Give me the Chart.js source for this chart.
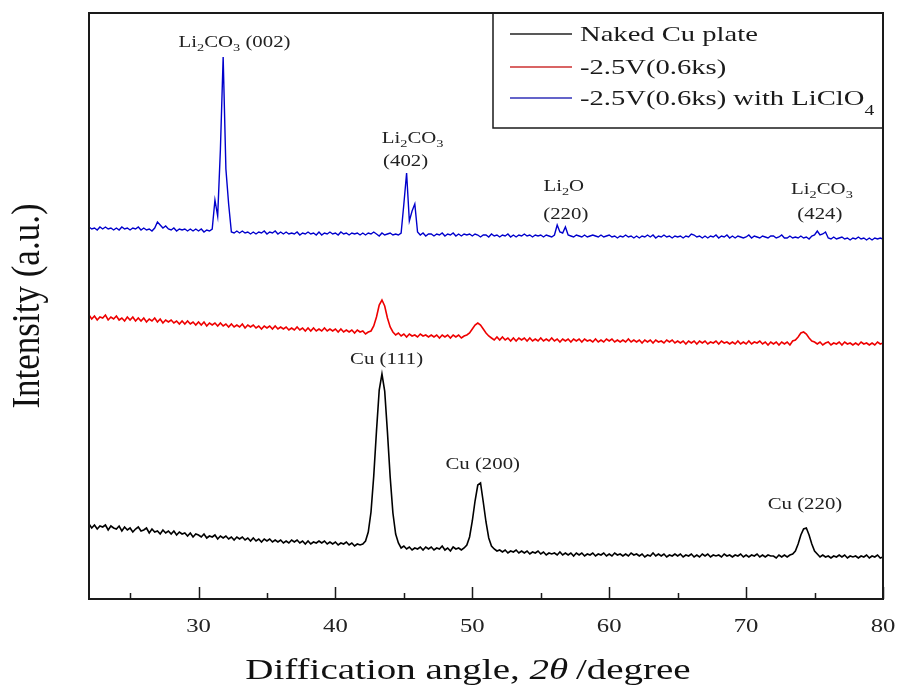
<!DOCTYPE html>
<html>
<head>
<meta charset="utf-8">
<title>XRD patterns</title>
<script src="https://cdn.jsdelivr.net/npm/chart.js@4.4.1/dist/chart.umd.min.js"></script>
<style>
  body { margin: 0; background: #fff; }
  canvas { display: block; }
</style>
</head>
<body>
<canvas id="myChart" width="897" height="693"></canvas>
<script>
// scan positions, 2theta in degree (one row per degree)
var angles = [
  22, 22.2, 22.4, 22.6, 22.8, 23, 23.2, 23.4, 23.6, 23.8,
  24, 24.2, 24.4, 24.6, 24.8, 25, 25.2, 25.4, 25.6, 25.8,
  26, 26.2, 26.4, 26.6, 26.8, 27, 27.2, 27.4, 27.6, 27.8,
  28, 28.2, 28.4, 28.6, 28.8, 29, 29.2, 29.4, 29.6, 29.8,
  30, 30.2, 30.4, 30.6, 30.8, 31, 31.2, 31.4, 31.6, 31.8,
  32, 32.2, 32.4, 32.6, 32.8, 33, 33.2, 33.4, 33.6, 33.8,
  34, 34.2, 34.4, 34.6, 34.8, 35, 35.2, 35.4, 35.6, 35.8,
  36, 36.2, 36.4, 36.6, 36.8, 37, 37.2, 37.4, 37.6, 37.8,
  38, 38.2, 38.4, 38.6, 38.8, 39, 39.2, 39.4, 39.6, 39.8,
  40, 40.2, 40.4, 40.6, 40.8, 41, 41.2, 41.4, 41.6, 41.8,
  42, 42.2, 42.4, 42.6, 42.8, 43, 43.2, 43.4, 43.6, 43.8,
  44, 44.2, 44.4, 44.6, 44.8, 45, 45.2, 45.4, 45.6, 45.8,
  46, 46.2, 46.4, 46.6, 46.8, 47, 47.2, 47.4, 47.6, 47.8,
  48, 48.2, 48.4, 48.6, 48.8, 49, 49.2, 49.4, 49.6, 49.8,
  50, 50.2, 50.4, 50.6, 50.8, 51, 51.2, 51.4, 51.6, 51.8,
  52, 52.2, 52.4, 52.6, 52.8, 53, 53.2, 53.4, 53.6, 53.8,
  54, 54.2, 54.4, 54.6, 54.8, 55, 55.2, 55.4, 55.6, 55.8,
  56, 56.2, 56.4, 56.6, 56.8, 57, 57.2, 57.4, 57.6, 57.8,
  58, 58.2, 58.4, 58.6, 58.8, 59, 59.2, 59.4, 59.6, 59.8,
  60, 60.2, 60.4, 60.6, 60.8, 61, 61.2, 61.4, 61.6, 61.8,
  62, 62.2, 62.4, 62.6, 62.8, 63, 63.2, 63.4, 63.6, 63.8,
  64, 64.2, 64.4, 64.6, 64.8, 65, 65.2, 65.4, 65.6, 65.8,
  66, 66.2, 66.4, 66.6, 66.8, 67, 67.2, 67.4, 67.6, 67.8,
  68, 68.2, 68.4, 68.6, 68.8, 69, 69.2, 69.4, 69.6, 69.8,
  70, 70.2, 70.4, 70.6, 70.8, 71, 71.2, 71.4, 71.6, 71.8,
  72, 72.2, 72.4, 72.6, 72.8, 73, 73.2, 73.4, 73.6, 73.8,
  74, 74.2, 74.4, 74.6, 74.8, 75, 75.2, 75.4, 75.6, 75.8,
  76, 76.2, 76.4, 76.6, 76.8, 77, 77.2, 77.4, 77.6, 77.8,
  78, 78.2, 78.4, 78.6, 78.8, 79, 79.2, 79.4, 79.6, 79.8,
  80
];

// intensities (a.u., traces already offset as in the figure)
var nakedCu = [
  75, 71, 74, 70, 73, 72, 74, 69, 73, 71,
  70, 73, 68, 72, 69, 71, 67, 70, 72, 68,
  69, 71, 66, 70, 67, 68, 65, 69, 66, 68,
  65, 68, 64, 67, 65, 66, 63, 66, 62, 65,
  64, 62, 65, 61, 63, 62, 64, 60, 63, 61,
  63, 60, 62, 59, 62, 60, 62, 59, 61, 58,
  61, 58, 60, 57, 60, 58, 60, 57, 59, 57,
  59, 56, 58, 56, 59, 57, 59, 56, 58, 55,
  58, 55, 57, 56, 58, 56, 58, 55, 57, 55,
  57, 54, 56, 55, 57, 54, 56, 53, 55, 54,
  55, 58, 67, 87, 123, 168, 209, 225, 208, 167,
  122, 86, 65, 56, 51, 53, 50, 52, 49, 51,
  50, 52, 49, 52, 50, 52, 49, 51, 50, 53,
  49, 51, 48, 52, 50, 51, 49, 51, 54, 62,
  78, 98, 114, 116, 97, 77, 61, 53, 50, 48,
  49, 47, 49, 46, 48, 47, 49, 46, 48, 46,
  48, 45, 47, 46, 48, 45, 47, 44, 46, 45,
  46, 44, 47, 44, 46, 44, 46, 43, 46, 44,
  46, 43, 45, 44, 46, 43, 45, 44, 46, 43,
  45, 43, 46, 44, 45, 43, 45, 43, 46, 44,
  45, 43, 45, 42, 44, 43, 46, 43, 45, 43,
  45, 42, 44, 43, 45, 43, 45, 42, 44, 43,
  45, 42, 44, 42, 45, 43, 45, 42, 44, 43,
  44, 42, 45, 43, 44, 42, 44, 43, 45, 42,
  44, 42, 44, 43, 45, 42, 44, 42, 44, 43,
  43, 41, 44, 42, 44, 42, 44, 45, 48, 55,
  64, 70, 71, 64, 55, 48, 45, 42, 44, 42,
  43, 41, 43, 42, 44, 42, 44, 41, 43, 42,
  43, 41, 43, 42, 44, 41, 43, 42, 44, 41,
  42
];

var cathodic = [
  284, 280, 283, 279, 282, 281, 284, 279, 282, 280,
  283, 279, 281, 278, 282, 279, 282, 278, 281, 278,
  281, 277, 280, 278, 281, 277, 280, 276, 279, 277,
  279, 276, 278, 275, 278, 275, 278, 275, 277, 274,
  277, 274, 277, 273, 276, 274, 276, 273, 276, 273,
  275, 272, 275, 272, 274, 272, 275, 271, 274, 272,
  274, 271, 273, 270, 273, 271, 273, 270, 273, 270,
  272, 270, 272, 269, 271, 269, 272, 269, 271, 268,
  271, 268, 271, 268, 270, 268, 271, 268, 270, 268,
  270, 267, 270, 267, 269, 267, 269, 266, 269, 267,
  268, 265, 267, 268, 273, 282, 294, 299, 293, 281,
  272, 267, 264, 266, 263, 265, 262, 265, 263, 264,
  262, 265, 263, 264, 262, 264, 262, 264, 261, 264,
  262, 264, 261, 264, 262, 264, 261, 263, 264, 266,
  270, 274, 276, 274, 270, 266, 263, 261, 259, 262,
  259, 262, 259, 261, 258, 261, 258, 261, 259, 261,
  258, 261, 258, 260, 258, 261, 258, 260, 258, 261,
  258, 260, 257, 260, 258, 260, 257, 260, 258, 260,
  257, 260, 258, 259, 257, 260, 257, 259, 257, 260,
  258, 260, 257, 259, 257, 259, 257, 260, 257, 259,
  257, 259, 256, 259, 257, 259, 256, 259, 257, 258,
  256, 259, 257, 259, 256, 258, 256, 258, 255, 258,
  256, 258, 255, 258, 256, 258, 255, 257, 256, 258,
  255, 258, 256, 257, 255, 257, 255, 258, 255, 257,
  255, 258, 255, 257, 256, 258, 255, 257, 254, 257,
  255, 257, 254, 257, 255, 257, 254, 258, 259, 262,
  266, 267, 265, 261, 258, 257, 255, 257, 254, 256,
  257, 254, 256, 255, 257, 254, 257, 255, 256, 254,
  256, 254, 257, 255, 256, 254, 256, 254, 257, 255,
  256
];

var cathodicLiClO4 = [
  372, 370, 371, 369, 372, 370, 372, 370, 371, 369,
  371, 369, 372, 370, 371, 369, 371, 370, 372, 369,
  371, 369, 370, 368, 371, 377, 374, 371, 373, 370,
  369, 371, 368, 370, 369, 370, 368, 370, 368, 370,
  368, 370, 367, 369, 368, 370, 399, 383, 450, 542,
  430, 395, 367, 366, 368, 366, 368, 366, 367, 365,
  367, 365, 367, 366, 368, 365, 367, 366, 368, 365,
  367, 365, 367, 365, 366, 365, 367, 364, 366, 365,
  367, 365, 366, 364, 367, 364, 366, 365, 367, 365,
  366, 364, 367, 365, 366, 364, 366, 365, 366, 364,
  366, 364, 366, 365, 367, 365, 363, 366, 364, 365,
  366, 364, 365, 364, 366, 395, 426, 378, 388, 395,
  367, 364, 366, 363, 365, 365, 363, 365, 364, 366,
  363, 365, 364, 366, 363, 365, 363, 365, 364, 365,
  363, 365, 364, 362, 364, 364, 362, 365, 363, 364,
  362, 364, 363, 365, 362, 364, 362, 364, 363, 365,
  363, 364, 362, 364, 363, 364, 362, 364, 363, 362,
  364, 374, 367, 366, 372, 364, 363, 362, 364, 363,
  362, 364, 362, 363, 364, 363, 362, 364, 362, 363,
  364, 362, 363, 361, 363, 362, 364, 362, 363, 361,
  363, 361, 363, 362, 364, 362, 364, 361, 363, 362,
  364, 362, 363, 361, 363, 362, 363, 361, 363, 362,
  365, 364, 362, 363, 361, 363, 361, 363, 362, 364,
  361, 363, 362, 364, 361, 363, 361, 363, 362, 361,
  362, 364, 361, 363, 362, 361, 363, 362, 361, 363,
  363, 361, 362, 364, 361, 361, 363, 361, 362, 361,
  363, 361, 362, 360, 363, 364, 368, 364, 365, 367,
  361, 360, 362, 360, 361, 362, 360, 361, 359, 361,
  360, 362, 360, 361, 359, 361, 359, 361, 360, 361,
  360
];

var seriesNames = ['Naked Cu plate', '-2.5V(0.6ks)', '-2.5V(0.6ks) with LiClO'];
var seriesColors = ['#000000', '#ee0000', '#0000cc'];
var legendLineColors = ['#222222', '#cc3030', '#3030b8'];
var xTicks = [30, 40, 50, 60, 70, 80];
var xMinorTicks = [25, 35, 45, 55, 65, 75];

// peak labels: [angle, intensity] of each text line, parts = [text, subscript]
var peakLabels = [
  { x: 32.63, y: 556, parts: [['Li'], ['2', 1], ['CO'], ['3', 1], [' (002)']] },
  { x: 45.64, y: 460, parts: [['Li'], ['2', 1], ['CO'], ['3', 1]] },
  { x: 45.13, y: 437, parts: [['(402)']] },
  { x: 56.68, y: 412, parts: [['Li'], ['2', 1], ['O']] },
  { x: 56.83, y: 384, parts: [['(220)']] },
  { x: 75.54, y: 409, parts: [['Li'], ['2', 1], ['CO'], ['3', 1]] },
  { x: 75.39, y: 384, parts: [['(424)']] },
  { x: 43.74, y: 239, parts: [['Cu (111)']] },
  { x: 50.76, y: 134, parts: [['Cu (200)']] },
  { x: 74.30, y: 94, parts: [['Cu (220)']] }
];

var STRETCH = 1.3; // the figure's text is horizontally stretched
var FONT = '"Liberation Serif", "Times New Roman", serif';

function drawRich(ctx, parts, x, y, size, align, subDrop) {
  ctx.save();
  ctx.translate(x, y);
  ctx.scale(STRETCH, 1);
  var subSize = Math.round(size * 0.68);
  var w = 0;
  parts.forEach(function (p) {
    ctx.font = (p[2] || '') + ' ' + (p[1] ? subSize : size) + 'px ' + FONT;
    w += ctx.measureText(p[0]).width;
  });
  var cx = align === 'left' ? 0 : -w / 2;
  ctx.textAlign = 'left';
  ctx.textBaseline = 'middle';
  parts.forEach(function (p) {
    ctx.font = (p[2] || '') + ' ' + (p[1] ? subSize : size) + 'px ' + FONT;
    ctx.fillText(p[0], cx, p[1] ? size * subDrop : 0);
    cx += ctx.measureText(p[0]).width;
  });
  ctx.restore();
}

var decorations = {
  id: 'decorations',
  afterDraw: function (chart) {
    var ctx = chart.ctx;
    var a = chart.chartArea;
    var xs = chart.scales.x;
    var ys = chart.scales.y;
    ctx.save();

    // legend box in the top right corner
    ctx.fillStyle = '#fff';
    ctx.fillRect(493, a.top, a.right - 493, 115);
    ctx.strokeStyle = '#1a1a1a';
    ctx.lineWidth = 1.5;
    ctx.strokeRect(493, a.top, a.right - 493, 115);
    var rows = [35, 68, 99];
    for (var i = 0; i < seriesNames.length; i++) {
      ctx.strokeStyle = legendLineColors[i];
      ctx.lineWidth = 1.4;
      ctx.beginPath();
      ctx.moveTo(510, rows[i] - 1);
      ctx.lineTo(572, rows[i] - 1);
      ctx.stroke();
      ctx.fillStyle = '#1a1a1a';
      var parts = [[seriesNames[i]]];
      if (i === 2) parts.push(['4', 1]);
      drawRich(ctx, parts, 580, rows[i], 22, 'left', 0.55);
    }

    // plot frame
    ctx.strokeStyle = '#1a1a1a';
    ctx.lineWidth = 2;
    ctx.strokeRect(a.left, a.top, a.right - a.left, a.bottom - a.top);

    // inward ticks on the bottom axis
    ctx.lineWidth = 1.5;
    ctx.beginPath();
    xTicks.forEach(function (v) {
      var px = Math.round(xs.getPixelForValue(v)) + 0.5;
      ctx.moveTo(px, a.bottom);
      ctx.lineTo(px, a.bottom - 12);
    });
    xMinorTicks.forEach(function (v) {
      var px = Math.round(xs.getPixelForValue(v)) + 0.5;
      ctx.moveTo(px, a.bottom);
      ctx.lineTo(px, a.bottom - 6);
    });
    ctx.stroke();

    // tick labels
    ctx.fillStyle = '#222';
    xTicks.forEach(function (v) {
      drawRich(ctx, [[String(v)]], xs.getPixelForValue(v), 627, 19, 'center', 0);
    });

    // axis titles
    ctx.fillStyle = '#111';
    drawRich(ctx, [['Diffication angle, '], ['2\u03b8\u2009', 0, 'italic'], ['/degree']], 468, 671, 30, 'center', 0);
    ctx.save();
    ctx.translate(29, 306);
    ctx.scale(1.12, 1);
    ctx.rotate(-Math.PI / 2);
    ctx.font = '35px ' + FONT;
    ctx.textAlign = 'center';
    ctx.textBaseline = 'middle';
    ctx.fillText('Intensity (a.u.)', 0, 0);
    ctx.restore();

    // peak assignments
    ctx.fillStyle = '#222';
    peakLabels.forEach(function (l) {
      drawRich(ctx, l.parts, xs.getPixelForValue(l.x), ys.getPixelForValue(l.y), 16, 'center', 0.3);
    });
    ctx.restore();
  }
};

function displayGraph() {
  var grapharea = document.getElementById('myChart');
  var data = {
    labels: angles,
    datasets: [
      { label: seriesNames[0], data: nakedCu, borderColor: seriesColors[0], borderWidth: 1.6 },
      { label: seriesNames[1], data: cathodic, borderColor: seriesColors[1], borderWidth: 1.6 },
      { label: seriesNames[2] + '4', data: cathodicLiClO4, borderColor: seriesColors[2], borderWidth: 1.4 }
    ]
  };
  var config = {
    type: 'line',
    data: data,
    options: {
      responsive: false,
      animation: false,
      events: [],
      layout: { padding: { left: 89, right: 14, top: 13, bottom: 94 } },
      elements: {
        line: { tension: 0, fill: false },
        point: { radius: 0 }
      },
      scales: {
        x: { type: 'linear', min: 22, max: 80, display: false },
        y: { type: 'linear', min: 0, max: 586, display: false }
      },
      plugins: {
        legend: { display: false },
        tooltip: { enabled: false }
      }
    },
    plugins: [decorations]
  };
  new Chart(grapharea, config);
}
displayGraph();
</script>
</body>
</html>
